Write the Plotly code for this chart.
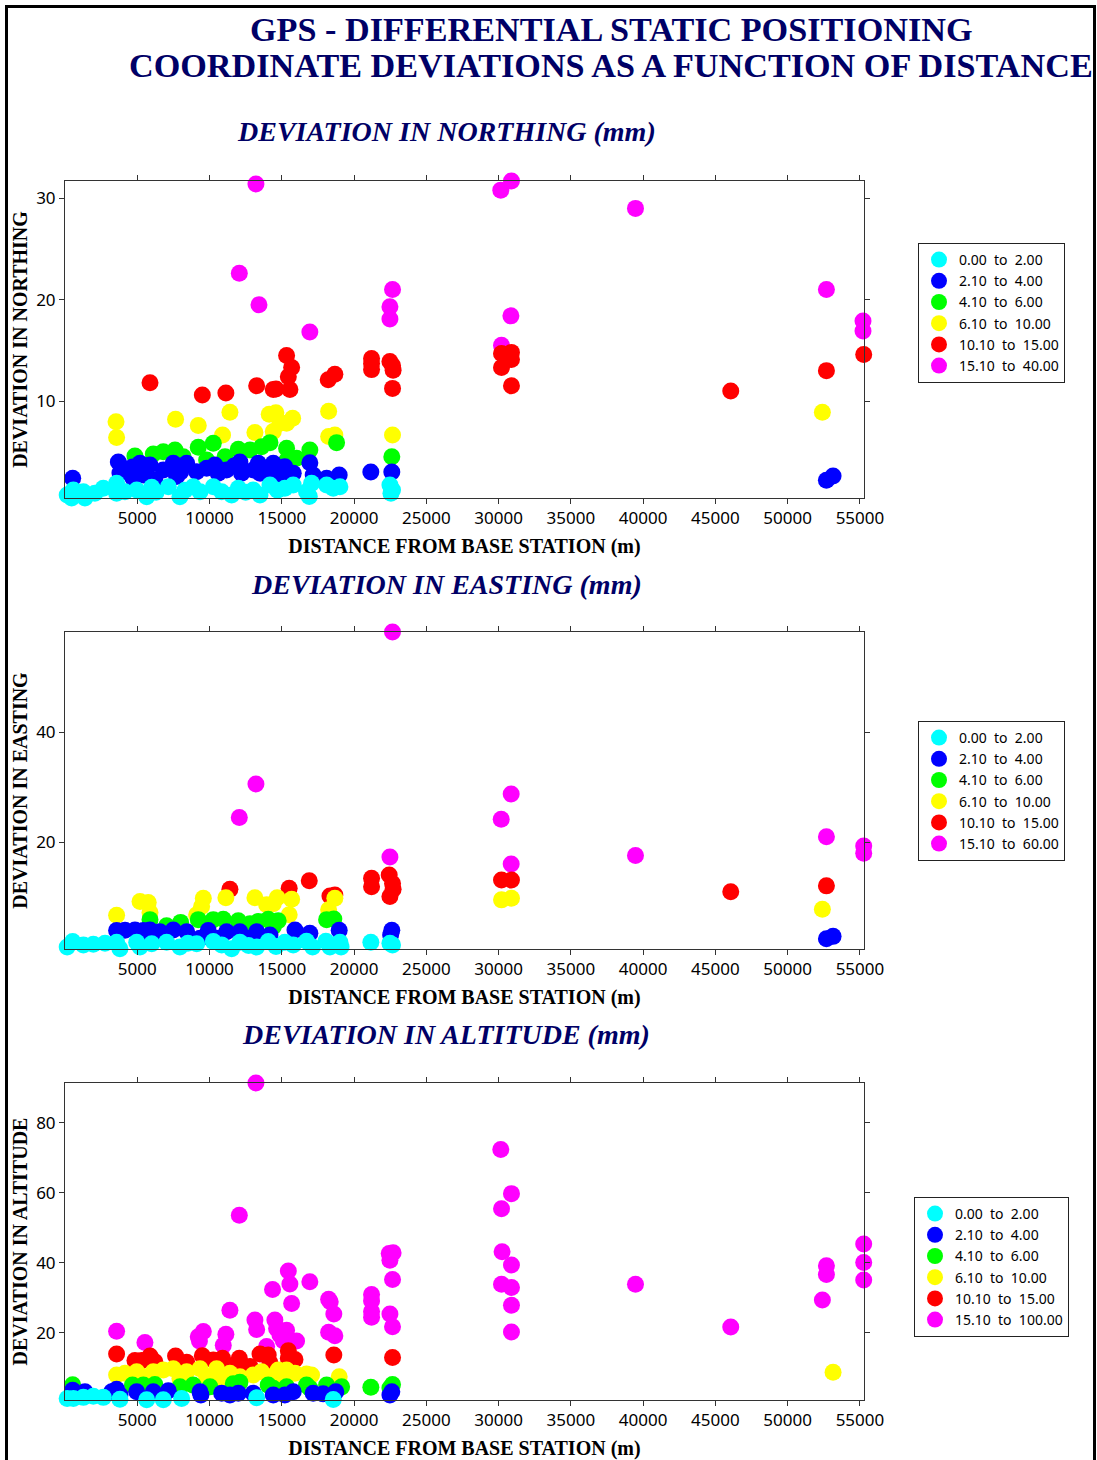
import plotly.graph_objects as go

# ---------------- DATA ----------------
x_tick_vals = [5000, 10000, 15000, 20000, 25000, 30000, 35000, 40000, 45000, 50000, 55000]
colors = ["#00FFFF", "#0000FF", "#00FF00", "#FFFF00", "#FF0000", "#FF00FF"]
bin_upper = [2.05, 4.05, 6.05, 10.05, 15.05]
labels_n = ["0.00  to  2.00", "2.10  to  4.00", "4.10  to  6.00", "6.10  to  10.00", "10.10  to  15.00", "15.10  to  40.00"]
labels_e = ["0.00  to  2.00", "2.10  to  4.00", "4.10  to  6.00", "6.10  to  10.00", "10.10  to  15.00", "15.10  to  60.00"]
labels_h = ["0.00  to  2.00", "2.10  to  4.00", "4.10  to  6.00", "6.10  to  10.00", "10.10  to  15.00", "15.10  to  100.00"]

# Northing deviations (mm) vs distance (m)
north_dist = [
    150, 460, 580, 1270, 1380, 2070, 2650, 3570, 3570, 4150, 4960, 5650, 6000, 6300, 7150, 7950, 8300, 8870, 9340,
    10260, 10840, 11530, 11990, 12500, 13020, 13490, 14180, 14700, 15210, 15790, 16710, 16900, 17060, 18100, 18560,
    19020, 22480, 22660, 22550,
    530, 3690, 3800, 4200, 4670, 4700, 5190, 5420, 5880, 6220, 6800, 7490, 7720, 8000, 8420, 9110, 9800, 10370, 10600,
    11180, 11700, 12100, 12220, 13030, 13370, 13500, 14180, 14410, 14900, 15210, 15790, 16940, 17170, 18100, 18970,
    21160, 22610, 52680, 53140,
    4840, 6110, 6800, 7610, 8180, 9220, 9800, 10260, 11070, 11990, 12800, 13600, 14180, 15330, 15330, 16020, 16940,
    18790, 22610,
    3530, 3570, 7650, 9220, 10900, 11410, 13140, 14130, 14590, 14410, 14870, 15330, 15750, 18240, 18240, 18670, 22660,
    52400,
    5880, 9500, 11130, 13260, 14410, 14600, 15330, 15680, 15450, 15560, 18210, 18670, 21210, 21210, 21210, 22480,
    22660, 22700, 22660, 30200, 30890, 30890, 30200, 30890, 46060, 52680, 55260,
    13210, 12060, 13420, 16940, 22660, 22480, 22480, 30150, 30890, 39470, 52680, 55210, 55210, 30850, 30200,
]
north_dev = [
    0.74, 0.45, 1.23, 1.06, 0.45, 0.9, 1.4, 1.9, 0.9, 1.06, 1.23, 0.57, 1.5, 1.0, 1.56, 0.57, 1.2, 1.56, 1.06,
    1.56, 1.06, 0.73, 1.4, 1.0, 1.23, 0.73, 1.73, 1.2, 1.4, 1.73, 1.06, 0.6, 1.9, 1.73, 1.4,
    1.56, 1.73, 1.23, 0.9,
    2.38, 4.0, 2.9, 3.3, 3.5, 2.4, 3.86, 2.7, 3.7, 2.2, 3.2, 3.86, 2.55, 3.0, 3.86, 3.04, 3.37, 3.7, 2.87,
    3.2, 3.6, 4.0, 2.87, 3.2, 3.86, 2.87, 3.2, 3.86, 2.6, 3.53, 2.87, 3.92, 2.7, 2.38, 2.7,
    3.0, 3.0, 2.2, 2.6,
    4.58, 4.78, 5.0, 5.17, 4.5, 5.44, 4.19, 5.83, 4.5, 5.24, 5.17, 5.5, 5.9, 5.34, 4.1, 4.35, 5.17,
    5.9, 4.5,
    7.96, 6.4, 8.2, 7.6, 6.65, 8.9, 6.9, 8.7, 8.85, 7.0, 7.8, 7.8, 8.3, 9.0, 6.5, 6.65, 6.65,
    8.9,
    11.8, 10.6, 10.8, 11.5, 11.15, 11.2, 14.5, 13.3, 12.4, 11.15, 12.1, 12.65, 14.2, 13.7, 13.1, 13.9,
    13.5, 13.05, 11.25, 14.7, 14.8, 14.1, 13.3, 11.5, 11.0, 13.0, 14.6,
    31.4, 22.6, 19.5, 16.8, 21.0, 19.3, 18.1, 30.8, 31.7, 29.0, 21.0, 17.9, 16.9, 18.4, 15.5,
]

# Easting deviations (mm) vs distance (m)
east_dist = [
    150, 530, 1270, 1960, 2770, 3570, 3800, 4960, 5190, 6000, 7030, 7950, 8500, 9110, 10260, 10840, 11530, 12100,
    12700, 13260, 14060, 14600, 15210, 15790, 16710, 17130, 18050, 18330, 19020, 19100, 21160, 22480, 22660,
    3570, 4150, 4840, 5420, 5880, 5880, 6570, 7490, 8420, 9340, 9910, 10600, 11180, 12100, 12680, 13260, 14180,
    15910, 16940, 18970, 22610, 22530, 52680, 53140,
    5880, 7030, 8000, 9220, 10260, 10950, 11990, 12800, 13370, 14060, 14750, 14410, 18100, 18600,
    3570, 5190, 5760, 5880, 9110, 9450, 9570, 11130, 13140, 13950, 14410, 14680, 15680, 15510, 18240, 18670,
    30200, 30890, 52400,
    11410, 15510, 16900, 18330, 18670, 21210, 21210, 22430, 22660, 22700, 22480, 30200, 30890, 46060, 52680,
    22660, 13210, 12060, 22480, 30870, 30180, 30870, 39470, 52680, 55260, 55260,
]
east_dev = [
    0.9, 1.9, 1.3, 1.4, 1.6, 1.8, 0.6, 1.8, 0.9, 1.5, 1.8, 0.9, 1.6, 1.5, 1.9, 1.3, 0.6, 1.8,
    1.2, 0.9, 1.9, 1.0, 1.8, 1.3, 1.95, 0.9, 1.95, 0.9, 1.8, 0.9, 1.8, 1.6, 1.3,
    3.9, 3.95, 4.0, 3.9, 2.5, 4.0, 3.7, 4.0, 3.7, 2.5, 3.9, 2.5, 3.7, 3.7, 2.5, 3.7, 3.1,
    4.0, 3.4, 3.95, 3.95, 3.1, 2.4, 2.85,
    5.9, 4.8, 5.4, 5.9, 5.9, 5.95, 5.7, 5.15, 5.55, 5.95, 5.7, 4.6, 5.9, 6.0,
    6.7, 9.2, 9.0, 7.2, 6.8, 8.3, 9.8, 9.9, 9.9, 8.6, 8.8, 9.9, 9.6, 6.8, 7.7, 9.8,
    9.5, 9.8, 7.8,
    11.45, 11.6, 13.0, 10.2, 10.4, 13.45, 11.9, 14.05, 12.5, 11.45, 10.1, 13.1, 13.1, 10.96, 12.05,
    58.3, 30.6, 24.5, 17.3, 28.8, 24.2, 16.05, 17.6, 21.0, 19.3, 18.0,
]

# Altitude deviations (mm) vs distance (m)
alt_dist = [
    150, 580, 1270, 1960, 2650, 3800, 5650, 6800, 8070, 13260, 18560,
    530, 1380, 3230, 3570, 3800, 4960, 6110, 7150, 9340, 9400, 10840, 11410, 11990, 13020, 14410, 15210, 15790,
    17170, 17860, 18740, 22480, 22610,
    530, 4670, 5420, 6220, 7950, 8870, 10030, 11640, 12100, 14060, 14410, 15330, 16710, 16940, 18100, 19140,
    21160, 22660, 22480,
    3570, 4150, 4960, 5420, 6110, 6800, 7490, 7950, 8420, 9340, 9800, 10490, 10600, 11410, 12100, 13020, 13600,
    14180, 14750, 15210, 15330, 15910, 16710, 17060, 18970, 53140,
    3570, 4840, 5300, 5880, 6220, 7650, 8420, 9500, 10260, 10900, 11070, 12060, 12100, 12800, 13490, 14060, 14180,
    15450, 15910, 15450, 18600, 22660,
    13210, 12060, 3570, 5530, 9220, 9570, 9300, 10950, 11130, 11410, 13140, 13260, 13950, 14360, 14520, 14640,
    14870, 15330, 15450, 15560, 15680, 16020, 15100, 16940, 18240, 18350, 18600, 18240, 18670, 21210, 21210,
    21210, 21210, 22430, 22700, 22480, 22660, 22480, 22660, 30150, 30890, 30200, 30240, 30890, 30200, 30890,
    30890, 30890, 39470, 46060, 52680, 52680, 52400, 55260, 55260, 55260,
]
alt_dev = [
    1.3, 1.3, 1.6, 1.9, 1.6, 1.05, 0.9, 0.9, 1.3, 1.5, 1.0,
    3.6, 3.2, 3.2, 3.9, 2.3, 3.2, 3.2, 3.5, 3.2, 2.3, 2.8, 2.3, 2.8, 2.8, 2.3, 2.3, 3.2,
    2.8, 2.6, 3.2, 2.3, 3.2,
    5.2, 5.1, 5.1, 5.3, 4.6, 5.1, 4.6, 5.5, 5.9, 5.1, 4.2, 4.6, 5.1, 4.2, 5.1, 4.6,
    4.5, 5.3, 4.3,
    8.0, 8.5, 8.9, 7.5, 8.9, 9.4, 9.8, 7.0, 8.9, 9.8, 7.5, 9.8, 6.5, 8.5, 7.5, 8.0, 8.9,
    7.5, 9.4, 6.2, 9.4, 8.5, 8.3, 8.0, 7.5, 8.75,
    14.0, 12.1, 12.1, 13.4, 11.8, 13.4, 11.6, 13.5, 12.3, 12.8, 11.0, 12.8, 10.5, 10.4, 14.0, 13.7, 11.5,
    14.9, 12.4, 12.8, 13.7, 13.0,
    91.4, 53.6, 20.5, 17.3, 18.9, 20.4, 17.7, 16.5, 19.6, 26.5, 23.7, 21.0, 16.1, 32.4, 23.7, 21.3,
    19.4, 20.8, 37.7, 34.0, 28.4, 17.7, 17.8, 34.6, 29.6, 28.9, 25.4, 20.2, 19.2, 31.0, 29.1,
    26.1, 24.5, 42.7, 42.9, 40.8, 35.3, 25.4, 21.8, 72.4, 59.8, 55.5, 43.2, 39.4, 33.9, 33.0,
    27.9, 20.3, 33.9, 21.7, 39.2, 36.7, 29.4, 45.4, 40.1, 35.1,
]

y_ticks_n = [10, 20, 30]
y_ticks_e = [20, 40]
y_ticks_h = [20, 40, 60, 80]

# ---------------- FIGURE ----------------
W, H = 1097, 1460
NAVY = "#000066"
SERIF = "Liberation Serif"
SANS = "Noto Sans"


def cls(v):
    for i, u in enumerate(bin_upper):
        if v <= u:
            return i
    return len(bin_upper)


def px_x(p):
    return p / W


def px_y(p):
    return 1 - p / H


panels = [
    (north_dist, north_dev, labels_n, y_ticks_n, [0.44, 31.7], (181, 498), "DEVIATION IN NORTHING", (918, 243)),
    (east_dist, east_dev, labels_e, y_ticks_e, [0.55, 58.3], (632, 949), "DEVIATION IN EASTING", (918, 721)),
    (alt_dist, alt_dev, labels_h, y_ticks_h, [0.85, 91.4], (1083, 1400), "DEVIATION IN ALTITUDE", (914, 1197)),
]

fig = go.Figure()
layout = dict(
    width=W, height=H, margin=dict(l=0, r=0, t=0, b=0),
    paper_bgcolor="white", plot_bgcolor="white", showlegend=True,
)

for pi, (dist, dev, labels, yt, yr, (ytop, ybot), ytitle, (lx, ly)) in enumerate(panels):
    n = pi + 1
    sfx = "" if n == 1 else str(n)
    legname = "legend" if n == 1 else f"legend{n}"
    for k in [5, 4, 3, 2, 1, 0]:
        xs = [d for d, v in zip(dist, dev) if cls(v) == k]
        ys = [v for d, v in zip(dist, dev) if cls(v) == k]
        fig.add_trace(go.Scatter(
            x=xs, y=ys, mode="markers", xaxis=f"x{sfx}", yaxis=f"y{sfx}",
            name=labels[k].replace(" ", "\u00a0"), legend=legname,
            marker=dict(color=colors[k], size=17, line=dict(width=0)),
            cliponaxis=False, hoverinfo="x+y",
        ))
    layout[f"xaxis{sfx}"] = dict(
        domain=[px_x(65), px_x(864)], range=[0, 55280], anchor=f"y{sfx}",
        tickvals=x_tick_vals, ticktext=[str(v) for v in x_tick_vals],
        ticks="outside", ticklen=5, tickcolor="#333", showline=True, linecolor="#333", linewidth=1,
        mirror="ticks", showgrid=False, zeroline=False,
        tickfont=dict(family=SANS, size=17, color="black"),
        title=dict(text="<b>DISTANCE FROM BASE STATION (m)</b>", standoff=10,
                   font=dict(family=SERIF, size=20, color="black")),
        automargin=False,
    )
    layout[f"yaxis{sfx}"] = dict(
        domain=[px_y(ybot), px_y(ytop)], range=yr, anchor=f"x{sfx}",
        tickvals=yt, ticks="outside", ticklen=5, tickcolor="#333",
        showline=True, linecolor="#333", linewidth=1, mirror="ticks",
        showgrid=False, zeroline=False,
        tickfont=dict(family=SANS, size=17, color="black"),
        title=dict(text=f"<b>{ytitle}</b>", standoff=3,
                   font=dict(family=SERIF, size=20, color="black")),
        automargin=False,
    )
    layout[legname] = dict(
        x=px_x(lx), y=px_y(ly), xanchor="left", yanchor="top",
        bordercolor="#222", borderwidth=1, bgcolor="white",
        font=dict(family=SANS, size=14, color="black"),
        traceorder="reversed", itemsizing="trace", tracegroupgap=0,
    )

fig.update_layout(**layout)

annotations = [
    dict(text="<b>GPS - DIFFERENTIAL STATIC POSITIONING</b>", x=px_x(611), y=px_y(29), size=34.2),
    dict(text="<b>COORDINATE DEVIATIONS AS A FUNCTION OF DISTANCE</b>", x=px_x(611), y=px_y(66), size=34.2),
    dict(text="<b><i>DEVIATION IN NORTHING (mm)</i></b>", x=px_x(446.5), y=px_y(131), size=28),
    dict(text="<b><i>DEVIATION IN EASTING (mm)</i></b>", x=px_x(446.5), y=px_y(585), size=28),
    dict(text="<b><i>DEVIATION IN ALTITUDE (mm)</i></b>", x=px_x(446), y=px_y(1034), size=28),
]
for a in annotations:
    fig.add_annotation(
        text=a["text"], x=a["x"], y=a["y"], xref="paper", yref="paper",
        xanchor="center", yanchor="middle", showarrow=False,
        font=dict(family=SERIF, size=a["size"], color=NAVY),
    )

fig.add_shape(type="rect", xref="paper", yref="paper",
              x0=px_x(6.5), x1=px_x(1094.5), y0=-0.05, y1=px_y(6.5),
              line=dict(color="black", width=3), fillcolor="rgba(0,0,0,0)", layer="above")

fig.write_html("out.html", config={"displayModeBar": False},
               post_script="document.body.style.margin='0';")
